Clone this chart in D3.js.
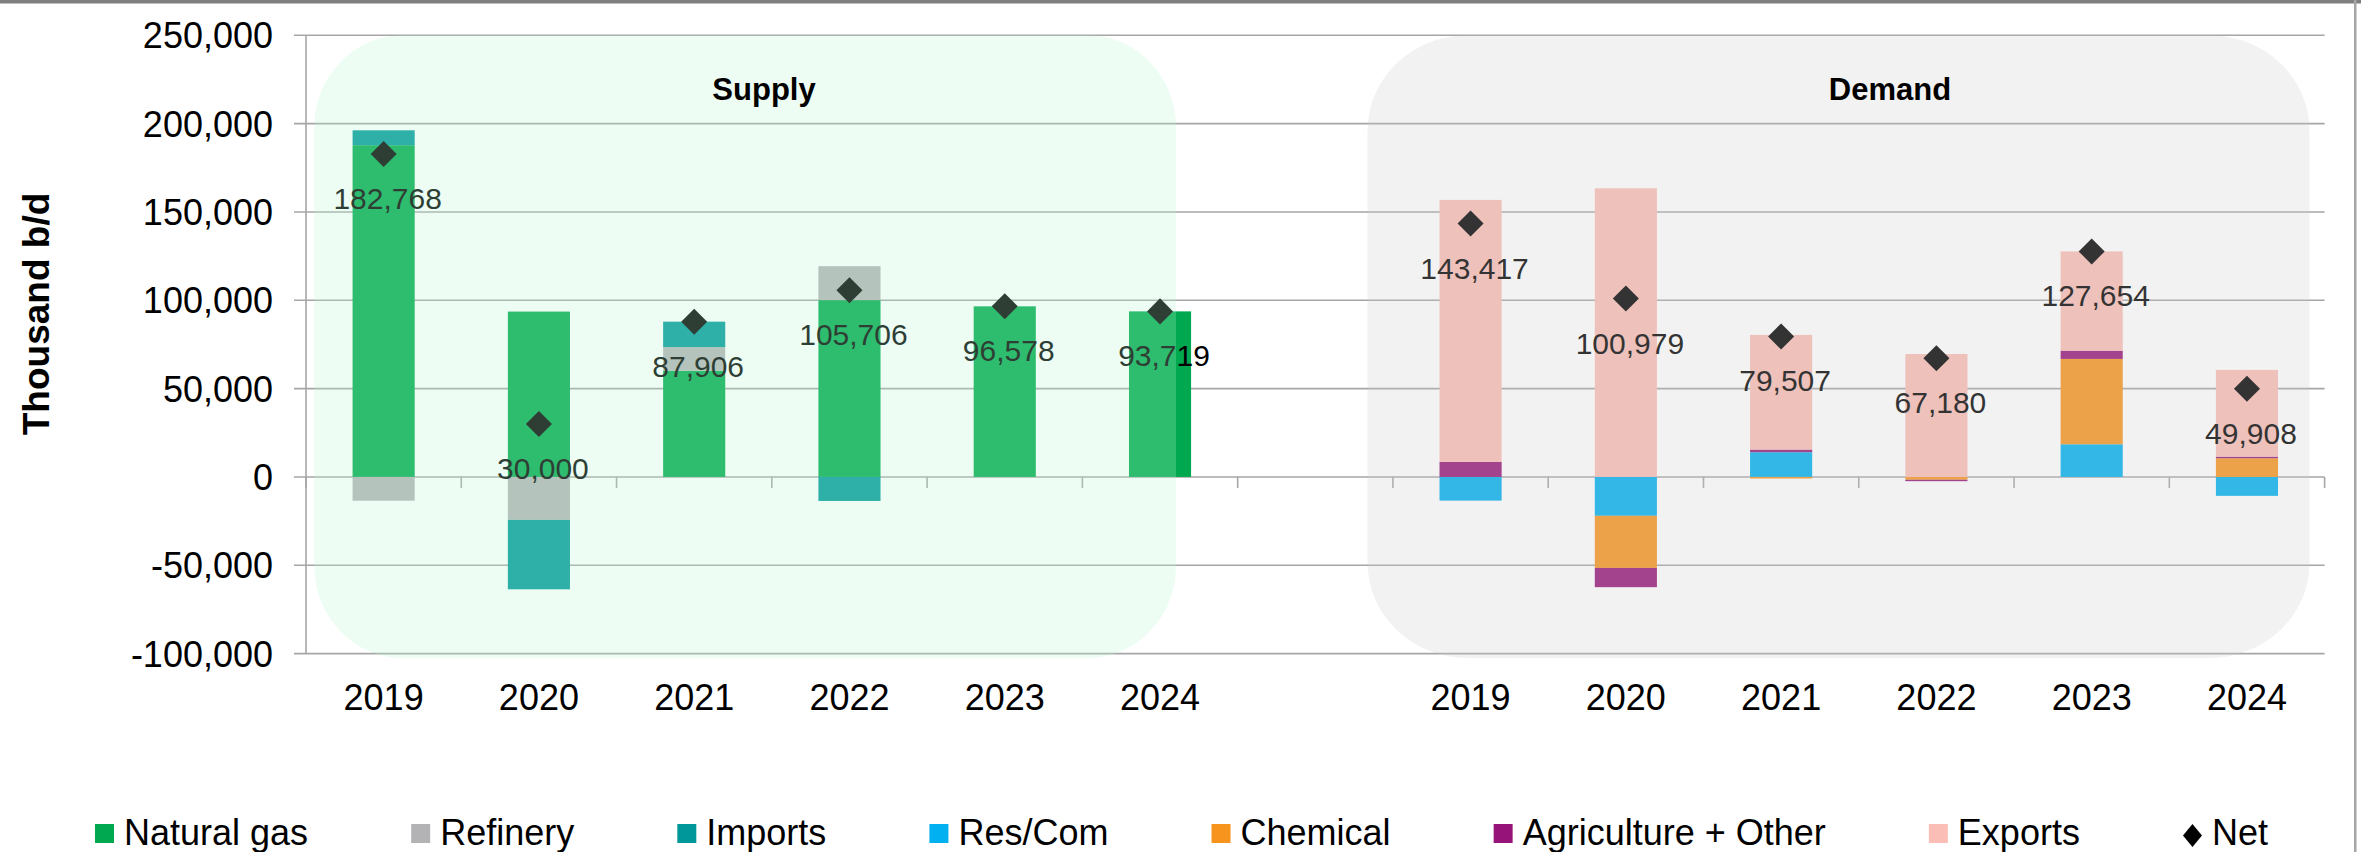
<!DOCTYPE html>
<html>
<head>
<meta charset="utf-8">
<script src="https://cdn.jsdelivr.net/npm/d3@7"></script>
<style>
  body { margin: 0; background: #fff; }
  svg { display: block; font-family: "Liberation Sans", Arial, sans-serif; }
</style>
</head>
<body>
<div id="wrapper"></div>
<script>
// data
const years = ["2019", "2020", "2021", "2022", "2023", "2024"]
const supplyKeys = ["Natural gas", "Refinery", "Imports"]
const demandKeys = ["Res/Com", "Chemical", "Agriculture + Other", "Exports"]

const naturalGas = [187800, 93600, 60100, 100100, 96578, 93719]
const refinery = [-13450, -24300, 13400, 19200, 0, 0]
const imports = [8418, -39300, 14406, -13594, 0, 0]
const supplyNet = [182768, 30000, 87906, 105706, 96578, 93719]

const resCom = [-13400, -22000, 14000, 0, 18500, -10700]
const chemical = [0, -29500, -900, -1600, 48300, 10600]
const agriculture = [8500, -10900, 1500, -800, 4700, 900]
const exportsVals = [148317, 163379, 64907, 69580, 56154, 49108]
const demandNet = [143417, 100979, 79507, 67180, 127654, 49908]

const yTicks = [-100000, -50000, 0, 50000, 100000, 150000, 200000, 250000]
const legendItems = ["Natural gas", "Refinery", "Imports", "Res/Com", "Chemical", "Agriculture + Other", "Exports", "Net"]

const colors = {
  "Natural gas": "#00a84f",
  "Refinery": "#b3b3b6",
  "Imports": "#00979a",
  "Res/Com": "#00b0f0",
  "Chemical": "#f7941d",
  "Agriculture + Other": "#961479",
  "Exports": "#fabeb6"
}

// excel style: plain hyphen for negatives
const fmt = v => d3.format(",")(v).replace("\u2212", "-")

function drawChart() {
  const dimensions = {
    width: 2361,
    height: 852,
    margin: { top: 35.3, right: 36.4, bottom: 198.4, left: 306 }
  }
  dimensions.boundedWidth = dimensions.width - dimensions.margin.left - dimensions.margin.right
  dimensions.boundedHeight = dimensions.height - dimensions.margin.top - dimensions.margin.bottom

  const svg = d3.select("#wrapper").append("svg")
    .attr("width", dimensions.width)
    .attr("height", dimensions.height)

  // rows for stacking
  const supplyRows = years.map((yr, i) => ({
    cat: "S" + yr, year: yr, net: supplyNet[i],
    "Natural gas": naturalGas[i], "Refinery": refinery[i], "Imports": imports[i]
  }))
  const demandRows = years.map((yr, i) => ({
    cat: "D" + yr, year: yr, net: demandNet[i],
    "Res/Com": resCom[i], "Chemical": chemical[i],
    "Agriculture + Other": agriculture[i], "Exports": exportsVals[i]
  }))
  const cats = [...supplyRows.map(d => d.cat), "gap", ...demandRows.map(d => d.cat)]

  // scales
  const x = d3.scaleBand()
    .domain(cats)
    .range([dimensions.margin.left, dimensions.width - dimensions.margin.right])
    .padding(0)
  const y = d3.scaleLinear()
    .domain([-100000, 250000])
    .range([dimensions.height - dimensions.margin.bottom, dimensions.margin.top])
  const barW = x.bandwidth() * 0.4
  const cx = c => x(c) + x.bandwidth() / 2
  const x0 = dimensions.margin.left
  const x1 = dimensions.width - dimensions.margin.right

  // gridlines
  svg.append("g").selectAll("line")
    .data(yTicks)
    .join("line")
      .attr("x1", x0 - 12)
      .attr("x2", x1)
      .attr("y1", d => y(d))
      .attr("y2", d => y(d))
      .attr("stroke", "#a6a6a6")
      .attr("stroke-width", 1.6)

  // y axis line
  svg.append("line")
    .attr("x1", x0).attr("x2", x0)
    .attr("y1", y(250000)).attr("y2", y(-100000))
    .attr("stroke", "#a6a6a6")
    .attr("stroke-width", 1.6)

  // x axis ticks on band boundaries
  const boundaries = cats.map(c => x(c)).concat([x1])
  svg.append("g").selectAll("line")
    .data(boundaries)
    .join("line")
      .attr("x1", d => d).attr("x2", d => d)
      .attr("y1", y(0)).attr("y2", y(0) + 11)
      .attr("stroke", "#a6a6a6")
      .attr("stroke-width", 1.6)

  // bars
  const stackGen = keys => d3.stack().keys(keys).offset(d3.stackOffsetDiverging)
  const series = [
    ...stackGen(supplyKeys)(supplyRows),
    ...stackGen(demandKeys)(demandRows)
  ]
  svg.append("g").selectAll("g")
    .data(series)
    .join("g")
      .attr("fill", s => colors[s.key])
    .selectAll("rect")
    .data(s => s)
    .join("rect")
      .attr("x", d => cx(d.data.cat) - barW / 2)
      .attr("width", barW)
      .attr("y", d => y(Math.max(d[0], d[1])))
      .attr("height", d => Math.abs(y(d[0]) - y(d[1])))

  // net markers + labels
  const allRows = [...supplyRows, ...demandRows]
  const diamond = d3.symbol(d3.symbolSquare, 339)
  svg.append("g").selectAll("path")
    .data(allRows)
    .join("path")
      .attr("d", diamond)
      .attr("transform", d => `translate(${cx(d.cat)},${y(d.net)}) rotate(45)`)
      .attr("fill", "#000")

  svg.append("g").selectAll("text")
    .data(allRows)
    .join("text")
      .attr("x", d => cx(d.cat) + 4)
      .attr("y", d => y(d.net) + 55)
      .attr("text-anchor", "middle")
      .attr("font-size", 30)
      .attr("fill", "#000")
      .text(d => fmt(d.net))

  // translucent panels
  const panels = [
    { title: "Supply", x: 314.3, w: 861.7, rx: 88, ry: 92, fill: "rgba(184,248,208,0.25)", tx: 764 },
    { title: "Demand", x: 1367.6, w: 941.9, rx: 100, ry: 95, fill: "rgba(204,204,204,0.25)", tx: 1890 }
  ]
  svg.append("g").selectAll("rect")
    .data(panels)
    .join("rect")
      .attr("x", d => d.x)
      .attr("y", y(250000))
      .attr("width", d => d.w)
      .attr("height", 658 - y(250000))
      .attr("rx", d => d.rx)
      .attr("ry", d => d.ry)
      .attr("fill", d => d.fill)

  svg.append("g").selectAll("text")
    .data(panels)
    .join("text")
      .attr("x", d => d.tx)
      .attr("y", 100)
      .attr("text-anchor", "middle")
      .attr("font-size", 31)
      .attr("font-weight", "bold")
      .text(d => d.title)

  // y tick labels
  svg.append("g").selectAll("text")
    .data(yTicks)
    .join("text")
      .attr("x", x0 - 33)
      .attr("y", d => y(d))
      .attr("dy", "0.36em")
      .attr("text-anchor", "end")
      .attr("font-size", 36)
      .text(d => fmt(d))

  // x labels
  svg.append("g").selectAll("text")
    .data(allRows)
    .join("text")
      .attr("x", d => cx(d.cat))
      .attr("y", 710)
      .attr("text-anchor", "middle")
      .attr("font-size", 36)
      .text(d => d.year)

  // y axis title
  svg.append("text")
    .attr("transform", "translate(49,314) rotate(-90)")
    .attr("text-anchor", "middle")
    .attr("font-size", 37)
    .attr("font-weight", "bold")
    .text("Thousand b/d")

  // legend
  const legend = svg.append("g")
  const items = legend.selectAll("g")
    .data(legendItems)
    .join("g")
  items.each(function(d) {
    const g = d3.select(this)
    if (d === "Net") {
      g.append("path")
        .attr("d", "M9.5,-21 L19,-9.5 L9.5,2 L0,-9.5 Z")
        .attr("fill", "#000")
    } else {
      g.append("rect")
        .attr("x", 0).attr("y", -21)
        .attr("width", 19).attr("height", 19)
        .attr("fill", colors[d])
    }
    g.append("text")
      .attr("x", 29)
      .attr("font-size", 36)
      .text(d)
  })
  const widths = []
  items.select("text").each(function() { widths.push(this.getComputedTextLength()) })
  const legendStart = 95
  const legendEnd = 2268
  const used = d3.sum(widths) + 29 * widths.length
  const gap = (legendEnd - legendStart - used) / (widths.length - 1)
  let pos = legendStart
  items.attr("transform", (d, i) => {
    const t = `translate(${pos},845)`
    pos += 29 + widths[i] + gap
    return t
  })

  // frame
  svg.append("rect")
    .attr("x", 0).attr("y", 0)
    .attr("width", dimensions.width).attr("height", 3.5)
    .attr("fill", "#7f7f7f")
  svg.append("rect")
    .attr("x", 2354).attr("y", 0)
    .attr("width", 2.5).attr("height", dimensions.height)
    .attr("fill", "#a6a6a6")
}

drawChart()
</script>
</body>
</html>
